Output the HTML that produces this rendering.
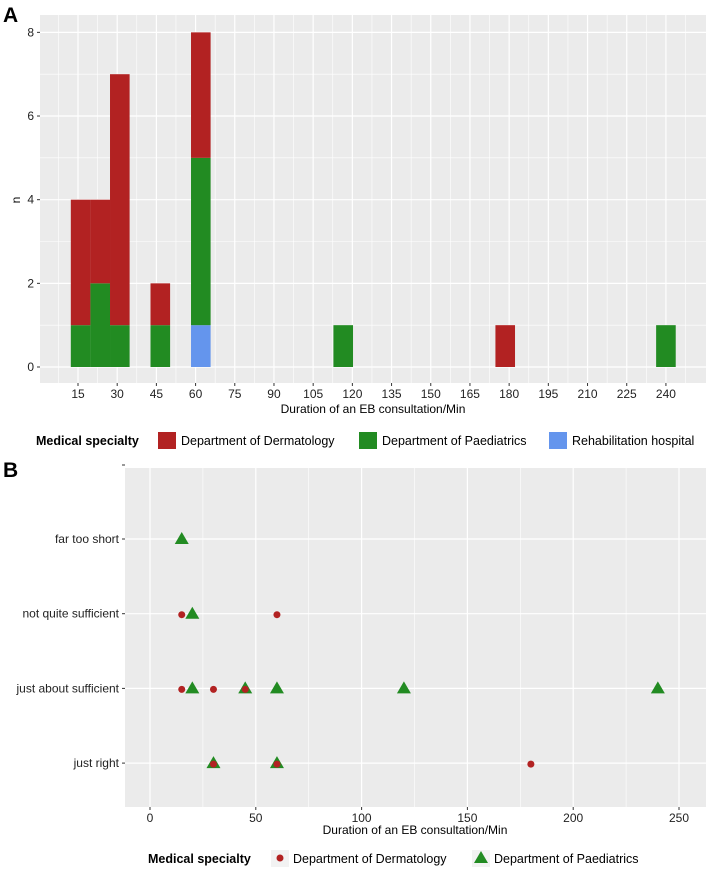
<!DOCTYPE html>
<html><head><meta charset="utf-8"><style>
body{margin:0;background:#fff;font-family:"Liberation Sans",Arial,sans-serif}
svg text{font-family:"Liberation Sans",Arial,sans-serif}
</style></head><body>
<svg id="chart" width="709" height="877" viewBox="0 0 709 877" xmlns="http://www.w3.org/2000/svg">
<text x="3" y="22" font-size="21" font-weight="bold">A</text>
<text x="3" y="477" font-size="21" font-weight="bold">B</text>
<g id="pa"></g>
<g id="pb"></g>
</svg>
<script>
// Panel A data
const aBins = [16, 23.5, 31, 46.5, 62, 116.5, 178.5, 240];
const aDerm = [3, 2, 6, 1, 3, 0, 1, 0];
const aPaed = [1, 2, 1, 1, 4, 1, 0, 1];
const aRehab = [0, 0, 0, 0, 1, 0, 0, 0];
const aXTicks = [15,30,45,60,75,90,105,120,135,150,165,180,195,210,225,240];
const aYTicks = [0,2,4,6,8];
// Panel B data
const bCats = ["far too short","not quite sufficient","just about sufficient","just right"];
const bDermX = [15, 60, 15, 30, 45, 30, 60, 180];
const bDermC = [1, 1, 2, 2, 2, 3, 3, 3];
const bPaedX = [15, 20, 20, 45, 60, 120, 240, 30, 60];
const bPaedC = [0, 1, 2, 2, 2, 2, 2, 3, 3];
const bXTicks = [0, 50, 100, 150, 200, 250];

const NS = "http://www.w3.org/2000/svg";
const RED = "#b22222", GREEN = "#228b22", BLUE = "#6495ed";
function mk(parent, tag, attrs, text){
  const e = document.createElementNS(NS, tag);
  for (const k in attrs) e.setAttribute(k, attrs[k]);
  if (text !== undefined) e.textContent = text;
  parent.appendChild(e); return e;
}
// ---------- Panel A ----------
const pa = document.getElementById('pa');
const aL=40, aR=706, aT=15, aB=383;
const ax = v => 78 + (v-15)*2.613;
const ay = v => 367 - v*41.83;
const bw = 7.5*2.613;
const bgA = mk(pa,'rect',{x:aL,y:aT,width:aR-aL,height:aB-aT,fill:'#ebebeb'});


for (let v=7.5; ax(v)<aR; v+=15){ if(ax(v)>aL) mk(pa,'line',{x1:ax(v),x2:ax(v),y1:aT,y2:aB,stroke:'#fff','stroke-width':0.6}); }
for (let v=1; v<=9; v+=2){ if(ay(v)>aT) mk(pa,'line',{x1:aL,x2:aR,y1:ay(v),y2:ay(v),stroke:'#fff','stroke-width':0.6}); }
aXTicks.forEach(t=>{
  mk(pa,'line',{x1:ax(t),x2:ax(t),y1:aT,y2:aB,stroke:'#fff','stroke-width':1.2});
  mk(pa,'line',{x1:ax(t),x2:ax(t),y1:aB,y2:aB+3,stroke:'#333'});
  const tl = mk(pa,'text',{x:ax(t),y:aB+15,'font-size':12,'text-anchor':'middle',fill:'#222'},t);
  
  
});
aYTicks.forEach(t=>{
  mk(pa,'line',{x1:aL,x2:aR,y1:ay(t),y2:ay(t),stroke:'#fff','stroke-width':1.2});
  mk(pa,'line',{x1:aL-3,x2:aL,y1:ay(t),y2:ay(t),stroke:'#333'});
  const tl = mk(pa,'text',{x:aL-6,y:ay(t)+4,'font-size':12,'text-anchor':'end',fill:'#222'},t);
  
  
});
aBins.forEach((b,i)=>{
  let base=0;
  [[aRehab[i],BLUE,'rehab'],[aPaed[i],GREEN,'paediatrics'],[aDerm[i],RED,'dermatology']].forEach(([n,c,nm])=>{
    if(n>0){
      const r = mk(pa,'rect',{x:ax(b)-bw/2,y:ay(base+n),width:bw,height:ay(base)-ay(base+n),fill:c});
      
      
      base+=n;
    }
  });
});
const yta = mk(pa,'text',{x:0,y:0,'font-size':12,'text-anchor':'middle',transform:'translate(20,200) rotate(-90)'},'n');


const xta = mk(pa,'text',{x:373,y:413,'font-size':12,'text-anchor':'middle'},'Duration of an EB consultation/Min');


// legend A
const lgA = mk(pa,'g',{});


mk(lgA,'text',{x:36,y:445,'font-size':12.5,'font-weight':'bold'},'Medical specialty');
[[RED,'Department of Dermatology',158],[GREEN,'Department of Paediatrics',359],[BLUE,'Rehabilitation hospital',549]].forEach(([c,t,x])=>{
  const g = mk(lgA,'g',{});
  
  
  mk(g,'rect',{x:x,y:432,width:18,height:17,fill:c});
  mk(g,'text',{x:x+23,y:445,'font-size':12.5},t);
});
// ---------- Panel B ----------
const pb = document.getElementById('pb');
const bL=125, bR=706, bT=468, bB=807;
const bx = v => 150 + v*2.116;
const by = c => 539 + c*74.7;
const bgB = mk(pb,'rect',{x:bL,y:bT,width:bR-bL,height:bB-bT,fill:'#ebebeb'});


for (let v=25; v<=275; v+=50){ if(bx(v)<bR) mk(pb,'line',{x1:bx(v),x2:bx(v),y1:bT,y2:bB,stroke:'#fff','stroke-width':0.6}); }
bXTicks.forEach(t=>{
  mk(pb,'line',{x1:bx(t),x2:bx(t),y1:bT,y2:bB,stroke:'#fff','stroke-width':1.2});
  mk(pb,'line',{x1:bx(t),x2:bx(t),y1:bB,y2:bB+3,stroke:'#333'});
  const tl = mk(pb,'text',{x:bx(t),y:bB+15,'font-size':12,'text-anchor':'middle',fill:'#222'},t);
  
  
});
mk(pb,'line',{x1:bL-3,x2:bL,y1:465,y2:465,stroke:'#333'});
bCats.forEach((c,i)=>{
  mk(pb,'line',{x1:bL,x2:bR,y1:by(i),y2:by(i),stroke:'#fff','stroke-width':1.2});
  mk(pb,'line',{x1:bL-3,x2:bL,y1:by(i),y2:by(i),stroke:'#333'});
  const tl = mk(pb,'text',{x:bL-6,y:by(i)+4,'font-size':12,'text-anchor':'end',fill:'#222'},c);
  
  
});
bPaedX.forEach((v,i)=>{
  const x=bx(v), y=by(bPaedC[i]);
  const t = mk(pb,'polygon',{points:`${x},${y-7} ${x-7},${y+5} ${x+7},${y+5}`,fill:GREEN});
  
  
});
bDermX.forEach((v,i)=>{
  const c = mk(pb,'circle',{cx:bx(v),cy:by(bDermC[i])+1,r:3.5,fill:RED});
  
  
});
const xtb = mk(pb,'text',{x:415,y:834,'font-size':12,'text-anchor':'middle'},'Duration of an EB consultation/Min');


const lgB = mk(pb,'g',{});


mk(lgB,'text',{x:148,y:863,'font-size':12.5,'font-weight':'bold'},'Medical specialty');
const e1 = mk(lgB,'g',{});


mk(e1,'rect',{x:271,y:850,width:18,height:17,fill:'#f2f2f2'});
mk(e1,'circle',{cx:280,cy:858,r:3.5,fill:RED});
mk(e1,'text',{x:293,y:863,'font-size':12.5},'Department of Dermatology');
const e2 = mk(lgB,'g',{});


mk(e2,'rect',{x:472,y:850,width:18,height:17,fill:'#f2f2f2'});
mk(e2,'polygon',{points:'481,851 474,863 488,863',fill:GREEN});
mk(e2,'text',{x:494,y:863,'font-size':12.5},'Department of Paediatrics');
</script>
</body></html>
